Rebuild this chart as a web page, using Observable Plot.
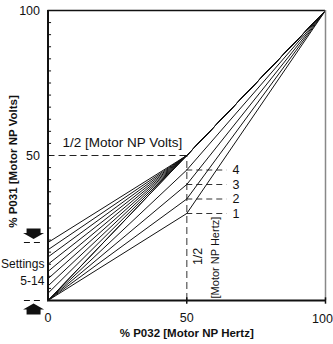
<!DOCTYPE html>
<html><head><meta charset="utf-8">
<script src="https://cdn.jsdelivr.net/npm/d3@7"></script>
<script src="https://cdn.jsdelivr.net/npm/@observablehq/plot@0.6"></script>
<style>body{margin:0;background:#fff} #chart svg{display:block}</style>
</head><body><div id="chart"></div>
<script>
// Variable-torque settings 1-4: volts (%) reached at 1/2 motor NP hertz
const vtSettings = [1, 2, 3, 4];
const vtVolts = [30, 35, 40, 45];
// Constant-torque settings 5-14: start boost (%)
const ctSettings = [5, 6, 7, 8, 9, 10, 11, 12, 13, 14];
const ctBoost = [0, 0, 2.5, 5, 7.5, 10, 12.5, 15, 17.5, 20];
const breakHertz = 50;
const halfVolts = 50;
const maxPct = 100;
const xTickValues = [0, 50];
const xEndTick = [100];
const yTickValues = [50, 100];
const yMinorTicks = d3.range(1, 24).map(i => i * 100 / 24);

const lines = [];
vtSettings.forEach((s, i) => {
  lines.push({s, x: 0, y: 0}, {s, x: breakHertz, y: vtVolts[i]}, {s, x: maxPct, y: maxPct});
});
ctSettings.forEach((s, i) => {
  lines.push({s, x: 0, y: ctBoost[i]}, {s, x: breakHertz, y: halfVolts}, {s, x: maxPct, y: maxPct});
});

const arrowDown = {draw(c) {
  c.moveTo(0, 0); c.lineTo(-10.5, -6); c.lineTo(-7, -6); c.lineTo(-7, -10.5);
  c.lineTo(7, -10.5); c.lineTo(7, -6); c.lineTo(10.5, -6); c.closePath();
}};
const arrowUp = {draw(c) {
  c.moveTo(0, 0); c.lineTo(-10.5, 6); c.lineTo(-7, 6); c.lineTo(-7, 11);
  c.lineTo(7, 11); c.lineTo(7, 6); c.lineTo(10.5, 6); c.closePath();
}};

const boostMax = d3.max(ctBoost), boostMin = d3.min(ctBoost);
const font = "'Liberation Sans', Arial, Helvetica, sans-serif";

const chart = Plot.plot({
  width: 333, height: 344,
  marginLeft: 47.5, marginRight: 8, marginTop: 10, marginBottom: 44,
  x: {domain: [0, 100]},
  y: {domain: [0, 100]},
  style: {fontFamily: font, fontSize: "12px", color: "#111", background: "#fff", overflow: "visible"},
  marks: [
    Plot.ruleY([halfVolts], {x1: 0, x2: breakHertz, stroke: "#222", strokeDasharray: "7,4"}),
    Plot.ruleX([breakHertz], {y1: 0, y2: halfVolts, stroke: "#777", strokeWidth: 1.5, strokeDasharray: "7,4"}),
    Plot.ruleY(vtVolts, {x1: breakHertz, x2: 64.5, stroke: "#333", strokeDasharray: "6,4"}),
    Plot.text(vtSettings, {x: 67.7, y: (d, i) => vtVolts[i], text: d => String(d), textAnchor: "middle", fontSize: 12.5}),
    Plot.line(lines, {x: "x", y: "y", z: "s", stroke: "#111", strokeWidth: 1}),
    Plot.ruleY([maxPct], {x1: 0, x2: maxPct, stroke: "#111", strokeWidth: 1.5}),
    Plot.ruleX([maxPct], {y1: 0, y2: maxPct, stroke: "#888", strokeWidth: 1.5}),
    Plot.ruleX([0], {y1: 0, y2: maxPct, stroke: "#111", strokeWidth: 2}),
    Plot.ruleY([0], {x1: 0, x2: maxPct, stroke: "#111", strokeWidth: 2}),
    Plot.link(yMinorTicks, {x1: 0, x2: 1.1, y1: d => d, y2: d => d, stroke: "#111", strokeWidth: 1}),
    Plot.link([50, 100], {x1: d => d, x2: d => d, y1: -1.1, y2: 1.1, stroke: "#111", strokeWidth: 1.5}),
    Plot.axisY(yTickValues, {tickSize: 0, tickPadding: 8, label: null, fontSize: 12.5}),
    Plot.axisX(xTickValues, {tickSize: 0, tickPadding: 13, label: null, fontSize: 12.5}),
    Plot.text(xEndTick, {x: d => d, y: 0, dx: -3, dy: 18, text: d => String(d), fontSize: 12.5}),
    Plot.text(["% P032 [Motor NP Hertz]"], {frameAnchor: "bottom", dy: 36, textAnchor: "middle", fontWeight: "bold", fontSize: 11.5}),
    Plot.text(["% P031 [Motor NP Volts]"], {frameAnchor: "left", textAnchor: "middle", dx: -34.5, dy: 6, rotate: -90, fontWeight: "bold", fontSize: 11.5}),
    Plot.text(["1/2 [Motor NP Volts]"], {x: 5.2, y: 54.3, textAnchor: "start", fontSize: 13.5}),
    Plot.text(["1/2"], {x: 54.2, y: 15.2, rotate: -90, fontSize: 12.5}),
    Plot.text(["[Motor NP Hertz]"], {x: 60.5, y: 14.8, rotate: -90, fontSize: 11}),
    Plot.ruleY([boostMin, boostMax], {x1: -8.5, x2: -2.7, stroke: "#111", strokeDasharray: "6,4"}),
    Plot.dot([boostMax], {x: -5.2, y: d => d, dy: -3.5, symbol: arrowDown, fill: "#111", stroke: "none"}),
    Plot.dot([boostMin], {x: -5.2, y: d => d, dy: 3, symbol: arrowUp, fill: "#111", stroke: "none"}),
    Plot.text(["Settings\n5-14"], {x: -1.3, y: 10.2, textAnchor: "end", lineHeight: 1.4, fontSize: 12})
  ]
});
document.getElementById("chart").appendChild(chart);
</script>
</body></html>
